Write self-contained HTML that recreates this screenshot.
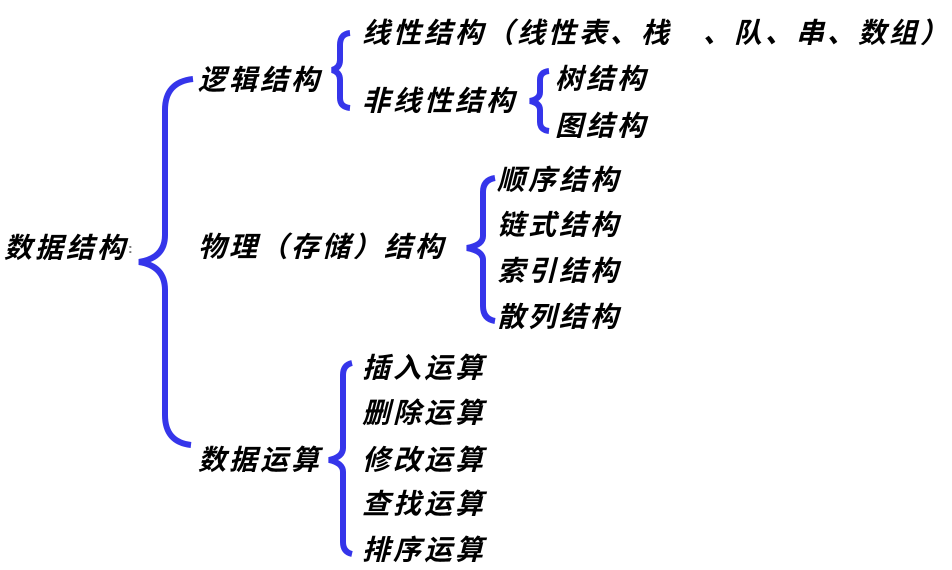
<!DOCTYPE html>
<html><head><meta charset="utf-8"><style>
html,body{margin:0;padding:0;background:#fff;width:952px;height:570px;overflow:hidden}
svg text{font-family:"Liberation Sans","Noto Sans CJK SC",sans-serif;font-weight:bold;font-style:italic;font-size:28px;letter-spacing:3px;fill:#000;dominant-baseline:central}
path{fill:none;stroke:#3535ea;stroke-width:6;stroke-linecap:butt}
</style></head><body>
<svg width="952" height="570" viewBox="0 0 952 570" xmlns="http://www.w3.org/2000/svg">
<path d="M193,79 Q165,82 165,110 L165,235 Q165,258 139,262 Q165,266 165,290 L165,415 Q165,442 191,445"/>
<path d="M350,33 Q340,34 340,45 L340,60 Q340,68 332,70 Q340,72 340,80 L340,98 Q340,107 350,108"/>
<path d="M549,71 Q540,72 540,80 L540,92 Q540,99 530,101 Q540,103 540,110 L540,122 Q540,130 549,131"/>
<path d="M495,178 Q483,180 483,192 L483,236 Q483,245 467,248 Q483,251 483,260 L483,306 Q483,319 495,321"/>
<path d="M352,363 Q343,365 343,375 L343,448 Q343,457 329,460 Q343,463 343,472 L343,542 Q343,552 352,554"/>

<text x="4" y="248">数据结构<tspan font-size="14" font-style="normal" fill="#777">:</tspan></text>
<text x="198" y="80">逻辑结构</text>
<text x="362" y="33">线性结构（线性表、栈　、队、串、数组）</text>
<text x="362" y="101">非线性结构</text>
<text x="555" y="79">树结构</text>
<text x="555" y="126">图结构</text>
<text x="198" y="247">物理（存储）结构</text>
<text x="497" y="180">顺序结构</text>
<text x="497" y="225">链式结构</text>
<text x="497" y="271">索引结构</text>
<text x="497" y="317">散列结构</text>
<text x="198" y="460">数据运算</text>
<text x="362" y="368">插入运算</text>
<text x="362" y="413">删除运算</text>
<text x="362" y="460">修改运算</text>
<text x="362" y="504">查找运算</text>
<text x="362" y="550">排序运算</text>
</svg>
</body></html>
